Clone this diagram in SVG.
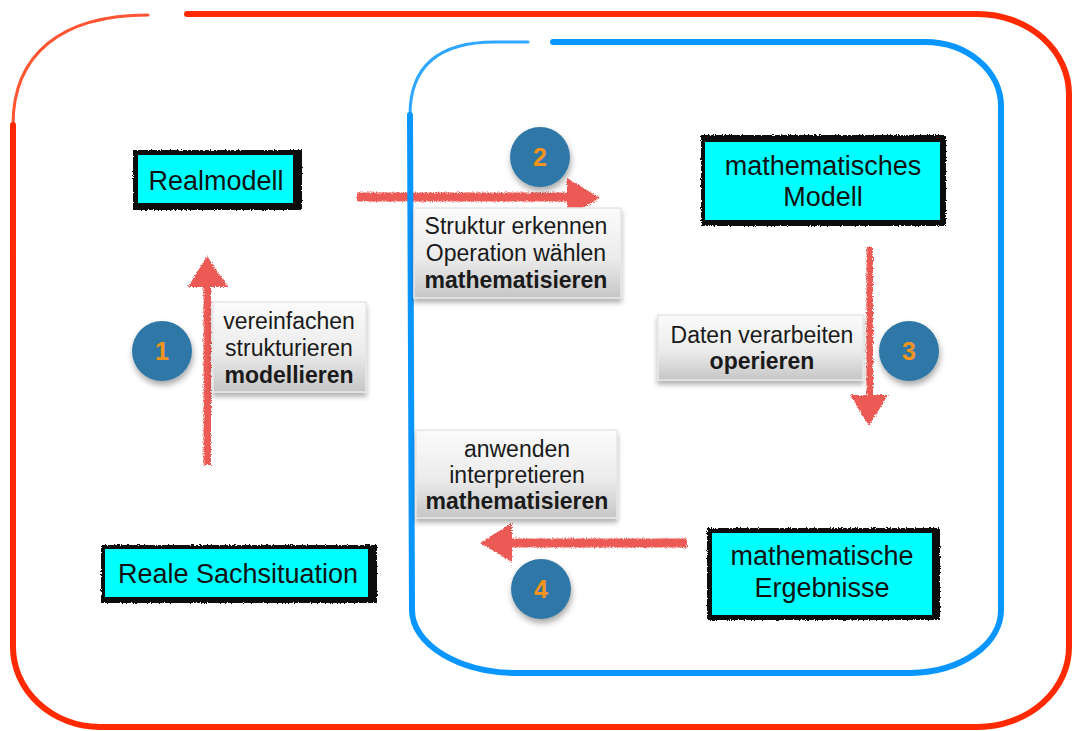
<svg xmlns="http://www.w3.org/2000/svg" width="1075" height="731" viewBox="0 0 1075 731">
<style>
.node-text{font-family:"Liberation Sans",Arial,sans-serif;font-size:27px;fill:#111;text-anchor:middle}
.lbl{font-family:"Liberation Sans",Arial,sans-serif;font-size:23px;fill:#1a1a1a;text-anchor:middle}
.lbl-b{font-weight:bold}
.num{font-family:"Liberation Sans",Arial,sans-serif;font-size:25px;font-weight:bold;fill:#f7941d;text-anchor:middle}
.arrow{fill:#ec5a55;filter:url(#rough)}
.border{fill:#0a0a0a;filter:url(#rough2)}
.fill{fill:#00ffff}
.circle{fill:#2f77a6;filter:url(#shadow)}
.lblbox{fill:url(#grad);stroke:#e6e6e6;stroke-width:1.5;filter:url(#shadow2)}
.redframe{fill:none;stroke:#ff2a00;stroke-linecap:round}
.blueframe{fill:none;stroke:#0a96ff;stroke-linecap:round}
</style>
<defs>
<filter id="rough" x="-10%" y="-10%" width="120%" height="120%">
<feTurbulence type="fractalNoise" baseFrequency="0.9" numOctaves="2" seed="3" result="n"/>
<feDisplacementMap in="SourceGraphic" in2="n" scale="4" xChannelSelector="R" yChannelSelector="G"/>
</filter>
<filter id="rough2" x="-5%" y="-10%" width="110%" height="120%">
<feTurbulence type="fractalNoise" baseFrequency="0.7" numOctaves="2" seed="7" result="n"/>
<feDisplacementMap in="SourceGraphic" in2="n" scale="3.5" xChannelSelector="R" yChannelSelector="G"/>
</filter>
<filter id="shadow" x="-30%" y="-30%" width="160%" height="170%">
<feDropShadow dx="1" dy="4" stdDeviation="3" flood-color="#000" flood-opacity="0.35"/>
</filter>
<filter id="shadow2" x="-10%" y="-10%" width="120%" height="130%">
<feDropShadow dx="0" dy="4" stdDeviation="2.5" flood-color="#000" flood-opacity="0.3"/>
</filter>
<linearGradient id="grad" x1="0" y1="0" x2="0" y2="1">
<stop offset="0" stop-color="#fbfbfb"/>
<stop offset="0.55" stop-color="#ececec"/>
<stop offset="1" stop-color="#c6c6c6"/>
</linearGradient>
</defs>
<rect width="1075" height="731" fill="#ffffff"/>

<g id="connectors">
<path class="arrow" d="M203.5,465 L203.5,287 L188,287 L207,256 L228,287 L211,287 L211,465 Z"/>
<path class="arrow" d="M357,192.5 L567,192.5 L567,178 L600,198 L567,217 L567,201.5 L357,201.5 Z"/>
<path class="arrow" d="M866.5,247 L866.5,395 L850,395 L869,426 L888,395 L873,395 L873,247 Z"/>
<path class="arrow" d="M687,538.5 L512,538.5 L512,523 L480,543 L512,562 L512,547.5 L687,547.5 Z"/>
</g>

<g id="frame-real">
<path class="redframe" stroke-width="6" d="M187,14 L978,14 A92,80 0 0 1 1069,95 L1069,647 A92,80 0 0 1 978,727 L100,727 A88,80 0 0 1 13,647 L13,125"/>
<path class="redframe" stroke-width="3" opacity="0.8" d="M13,125 C13,55 60,15 148,15"/>
</g>
<g id="frame-math">
<path class="blueframe" stroke-width="6" d="M553,42 L925,42 A76,64 0 0 1 1001,106 L1001,610 A92,63 0 0 1 911,673 L520,673 A106,63 0 0 1 412,610 L410,115"/>
<path class="blueframe" stroke-width="3" opacity="0.85" d="M410,115 C410,65 440,42 495,42 L528,42"/>
</g>

<g id="label-1">
<rect class="lblbox" x="213" y="302" width="153" height="90"/>
<text class="lbl" x="289" y="329">vereinfachen</text>
<text class="lbl" x="289" y="356">strukturieren</text>
<text class="lbl lbl-b" x="289" y="383">modellieren</text>
</g>
<g id="label-2">
<rect class="lblbox" x="414" y="208" width="207" height="90"/>
<text class="lbl" x="516" y="234">Struktur erkennen</text>
<text class="lbl" x="516" y="261">Operation wählen</text>
<text class="lbl lbl-b" x="516" y="288">mathematisieren</text>
</g>
<g id="label-3">
<rect class="lblbox" x="658" y="315" width="205" height="65"/>
<text class="lbl" x="762" y="343">Daten verarbeiten</text>
<text class="lbl lbl-b" x="762" y="369">operieren</text>
</g>
<g id="label-4">
<rect class="lblbox" x="416" y="430" width="201" height="88"/>
<text class="lbl" x="517" y="457">anwenden</text>
<text class="lbl" x="517" y="483">interpretieren</text>
<text class="lbl lbl-b" x="517" y="509">mathematisieren</text>
</g>

<g id="node-realmodell">
<rect class="border" x="133" y="150" width="169" height="60"/>
<rect class="fill" x="138" y="155" width="155" height="48"/>
<text class="node-text" x="216" y="190">Realmodell</text>
</g>
<g id="node-math-modell">
<rect class="border" x="701" y="135" width="245" height="91"/>
<rect class="fill" x="705" y="142" width="235" height="78"/>
<text class="node-text" x="823" y="175">mathematisches</text>
<text class="node-text" x="823" y="206">Modell</text>
</g>
<g id="node-reale-sachsituation">
<rect class="border" x="101" y="545" width="276" height="58"/>
<rect class="fill" x="105" y="549" width="263" height="48"/>
<text class="node-text" x="238" y="583">Reale Sachsituation</text>
</g>
<g id="node-math-ergebnisse">
<rect class="border" x="707" y="528" width="233" height="92"/>
<rect class="fill" x="712" y="533" width="220" height="82"/>
<text class="node-text" x="822" y="565">mathematische</text>
<text class="node-text" x="822" y="597">Ergebnisse</text>
</g>

<g id="step-1">
<circle class="circle" cx="162" cy="351" r="30"/>
<text class="num" x="162" y="360">1</text>
</g>
<g id="step-2">
<circle class="circle" cx="540" cy="157" r="30"/>
<text class="num" x="540" y="166">2</text>
</g>
<g id="step-3">
<circle class="circle" cx="909" cy="351" r="30"/>
<text class="num" x="909" y="360">3</text>
</g>
<g id="step-4">
<circle class="circle" cx="541" cy="589" r="30"/>
<text class="num" x="541" y="598">4</text>
</g>
</svg>
